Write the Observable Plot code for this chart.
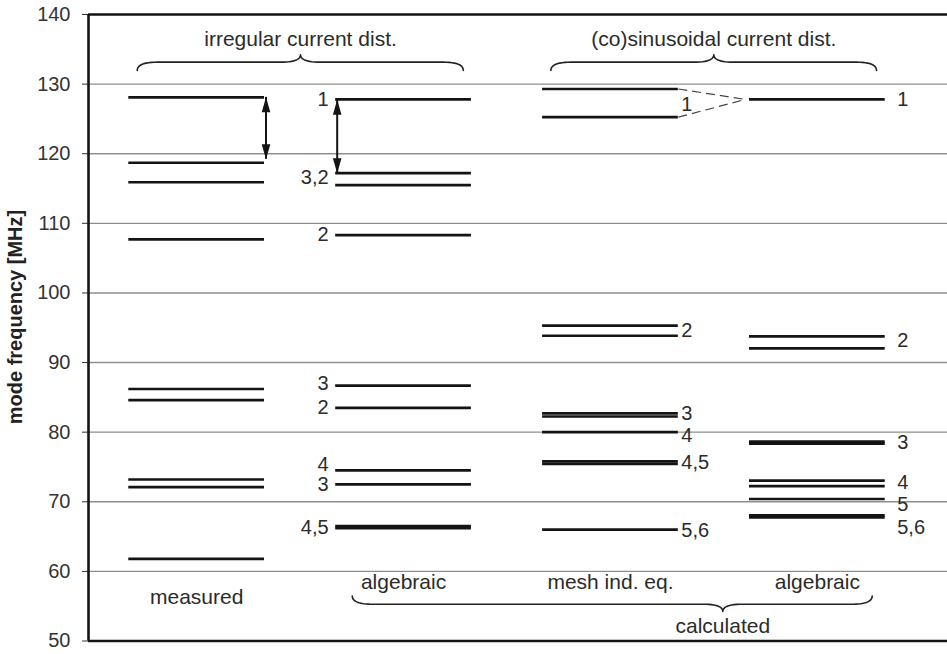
<!DOCTYPE html>
<html>
<head>
<meta charset="utf-8">
<script src="https://cdn.jsdelivr.net/npm/d3@7"></script>
<script src="https://cdn.jsdelivr.net/npm/@observablehq/plot@0.6"></script>
<style>
  html, body { margin: 0; padding: 0; background: #fff; }
  #chart { width: 947px; height: 654px; }
</style>
</head>
<body>
<div id="chart"></div>
<script>
// ---------------- data ----------------
const columnNames = ["measured", "algebraic", "mesh ind. eq.", "algebraic"];

// mode frequencies [MHz] per column
const measured           = [128.1, 118.7, 115.9, 107.7, 86.2, 84.6, 73.2, 72.1, 61.8];
const irregularAlgebraic = [127.8, 117.2, 115.5, 108.3, 86.7, 83.5, 74.5, 72.5, 66.5, 66.2];
const meshIndEq          = [129.3, 125.25, 95.3, 93.85, 82.7, 82.25, 80.0, 75.8, 75.45, 66.0];
const cosAlgebraic       = [127.8, 93.75, 92.05, 78.65, 78.35, 73.05, 72.25, 70.4, 68.05, 67.75];

// mode number labels and the frequency they sit at
const irregularLabels  = ["1", "3,2", "2", "3", "2", "4", "3", "4,5"];
const irregularLabelAt = [127.8, 116.5, 108.45, 86.95, 83.5, 75.4, 72.45, 66.35];
const meshLabels       = ["1", "2", "3", "4", "4,5", "5,6"];
const meshLabelAt      = [127.0, 94.6, 82.6, 79.5, 75.65, 65.9];
const cosLabels        = ["1", "2", "3", "4", "5", "5,6"];
const cosLabelAt       = [127.8, 93.1, 78.45, 72.75, 69.65, 66.25];

// double arrows (mode 1 to next mode spacing)
const arrowColumn = [0, 1];
const arrowTop    = [128.1, 127.75];
const arrowBottom = [119.2, 117.2];

const yTicks = [50, 60, 70, 80, 90, 100, 110, 120, 130, 140];
const groupTitles = ["irregular current dist.", "(co)sinusoidal current dist."];
const bottomGroupTitle = "calculated";
const yLabel = "mode frequency [MHz]";

// ---------------- layout ----------------
const hw = 0.328;                      // half width of a level line (column units)
const xDomain = [-0.5227, 3.629];
const ink = "#141414";
const textInk = "#2b2b2b";

const columns = [measured, irregularAlgebraic, meshIndEq, cosAlgebraic];
const levels = columns.flatMap((vals, col) => vals.map(f => ({col, f})));

const labelsLeft = irregularLabels.map((t, i) => ({t, y: irregularLabelAt[i], col: 1}));
const labelsMesh = meshLabels.map((t, i) => ({t, y: meshLabelAt[i], col: 2}));
const labelsCos  = cosLabels.map((t, i) => ({t, y: cosLabelAt[i], col: 3}));

const arrows = arrowColumn.map((col, i) => ({
  x: col === 0 ? col + hw : col - hw, top: arrowTop[i], bottom: arrowBottom[i]
}));

const dashes = [meshIndEq[0], meshIndEq[1]].map(f => ({x1: 2 + hw, y1: f, x2: 3 - hw - 0.02, y2: cosAlgebraic[0]}));

// curly brace geometry
function brace(id, xa, xb, xt, yEnd, yTip, r) {
  const yFlat = yEnd + (yTip - yEnd) * 0.53;
  const pts = [];
  const q = (p0, c, p1) => {
    for (let k = 0; k <= 12; k++) {
      const t = k / 12, u = 1 - t;
      pts.push({id, x: u*u*p0[0] + 2*u*t*c[0] + t*t*p1[0], y: u*u*p0[1] + 2*u*t*c[1] + t*t*p1[1]});
    }
  };
  q([xa, yEnd], [xa, yFlat], [xa + r, yFlat]);
  q([xt - r, yFlat], [xt, yFlat], [xt, yTip]);
  q([xt, yTip], [xt, yFlat], [xt + r, yFlat]);
  q([xb - r, yFlat], [xb, yFlat], [xb, yEnd]);
  return pts;
}
const braceSpecs = [
  {id: "irr", xa: -0.287, xb: 1.289, xt: 0.502, yEnd: 131.96, yTip: 134.21},
  {id: "cos", xa: 1.712,  xb: 3.286, xt: 2.4995, yEnd: 131.96, yTip: 134.21},
  {id: "calc", xa: 0.752, xb: 3.265, xt: 2.543, yEnd: 56.47, yTip: 54.24}
];
const bracePts = braceSpecs.flatMap(b => brace(b.id, b.xa, b.xb, b.xt, b.yEnd, b.yTip, 0.097));

const titles = [
  {t: groupTitles[0], x: braceSpecs[0].xt, y: 136.40},
  {t: groupTitles[1], x: braceSpecs[1].xt, y: 136.40},
  {t: bottomGroupTitle, x: braceSpecs[2].xt, y: 52.14}
];
const colLabels = columnNames.map((t, i) => ({t, x: i, y: i === 0 ? 56.34 : 58.39}));

const headUp = {draw(c) { c.moveTo(0, 0); c.lineTo(-4.3, 15); c.lineTo(4.3, 15); c.closePath(); }};
const headDown = {draw(c) { c.moveTo(0, 0); c.lineTo(-4.3, -15); c.lineTo(4.3, -15); c.closePath(); }};

const chart = Plot.plot({
  width: 947,
  height: 654,
  marginLeft: 88,
  marginRight: 0,
  marginTop: 14,
  marginBottom: 13.5,
  style: {fontFamily: "'Liberation Sans', Arial, sans-serif", fontSize: "20px", color: "#333", background: "#fff"},
  x: {domain: xDomain, axis: null},
  y: {domain: [50, 140], ticks: yTicks, tickSize: 6, tickPadding: 12, label: null},
  marks: [
    Plot.ruleY(yTicks.slice(1, -1), {stroke: "#8e8e8e", strokeWidth: 1.4}),
    Plot.ruleY([yTicks[0], yTicks[yTicks.length - 1]], {stroke: ink, strokeWidth: 2.6}),
    Plot.ruleX([xDomain[0]], {stroke: ink, strokeWidth: 2.6}),
    // levels
    Plot.ruleY(levels, {x1: d => d.col - hw, x2: d => d.col + hw, y: "f", stroke: ink, strokeWidth: 2.7}),
    // dashed connections
    Plot.link(dashes, {x1: "x1", y1: "y1", x2: "x2", y2: "y2", stroke: "#444", strokeWidth: 1.2, strokeDasharray: "9,5"}),
    // arrows
    Plot.ruleX(arrows, {x: "x", y1: "top", y2: "bottom", dx: 1.5, stroke: ink, strokeWidth: 2}),
    Plot.dot(arrows, {x: "x", y: "top", dx: 1.5, symbol: headUp, r: 3, fill: ink, stroke: null}),
    Plot.dot(arrows, {x: "x", y: "bottom", dx: 1.5, symbol: headDown, r: 3, fill: ink, stroke: null}),
    // braces
    Plot.line(bracePts, {x: "x", y: "y", z: "id", stroke: "#222", strokeWidth: 1.6, curve: "linear"}),
    // mode labels
    Plot.text(labelsLeft, {x: d => d.col - hw, y: "y", text: "t", textAnchor: "end", dx: -7, fill: textInk, fontSize: 20}),
    Plot.text(labelsMesh, {x: d => d.col + hw, y: "y", text: "t", textAnchor: "start", dx: 3, fill: textInk, fontSize: 20}),
    Plot.text(labelsCos, {x: d => d.col + hw, y: "y", text: "t", textAnchor: "start", dx: 12, fill: textInk, fontSize: 20}),
    // titles & column names
    Plot.text(titles, {x: "x", y: "y", text: "t", fill: textInk, fontSize: 21}),
    Plot.text(colLabels, {x: "x", y: "y", text: "t", fill: textInk, fontSize: 21}),
    // y label
    Plot.text([yLabel], {text: d => d, frameAnchor: "left", textAnchor: "middle", rotate: -90, dx: -73, dy: -10.75, fontWeight: "bold", fontSize: 20, fill: "#222"})
  ]
});
document.getElementById("chart").append(chart);
</script>
</body>
</html>
